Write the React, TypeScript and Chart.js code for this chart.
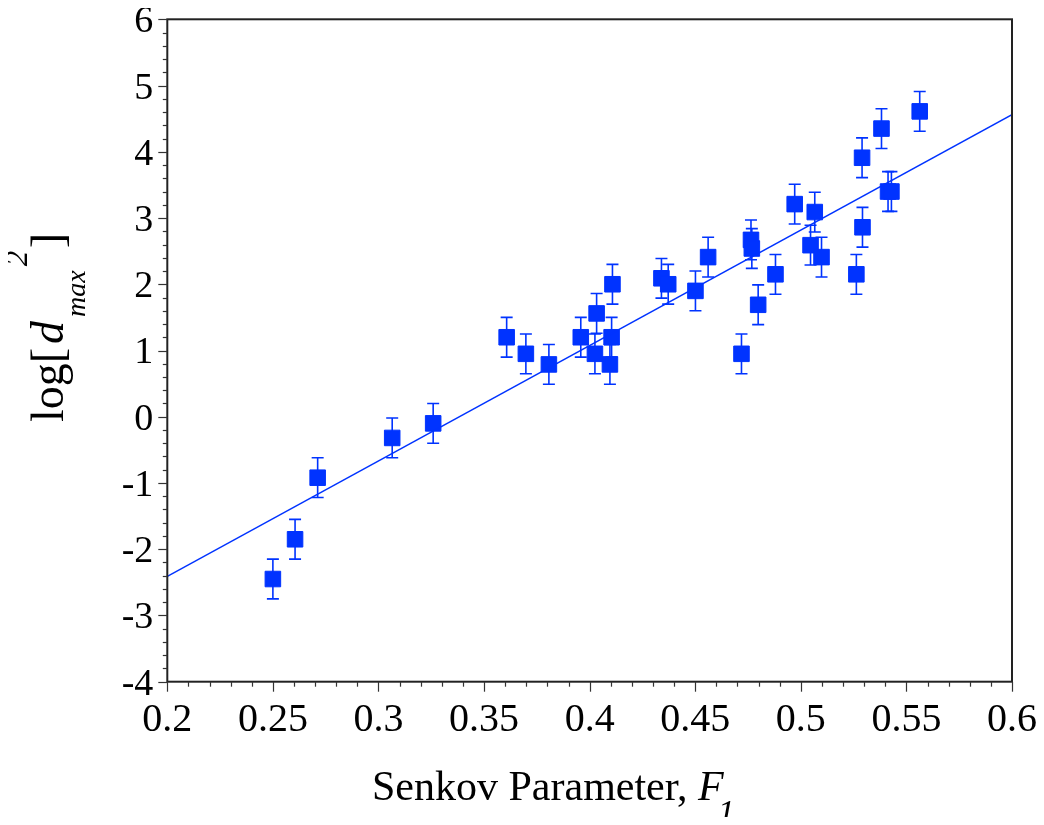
import React, { useEffect, useRef } from 'react';
import { Chart, registerables } from 'chart.js';

Chart.register(...registerables);

// ---- data ----
const senkovF1 = [
  0.250, 0.2605, 0.2712, 0.3065, 0.3259, 0.3607, 0.3698, 0.3807, 0.3958, 0.4025,
  0.4033, 0.4104, 0.4108, 0.4096, 0.4340, 0.4372, 0.4501, 0.4561, 0.4719, 0.4764,
  0.4768, 0.4798, 0.4880, 0.4971, 0.5046, 0.5066, 0.5098, 0.5263, 0.5290, 0.5292,
  0.5382, 0.5413, 0.5429, 0.5563,
];
const logDmax2 = [
  -2.45, -1.85, -0.92, -0.32, -0.10, 1.20, 0.95, 0.79, 1.20, 0.95,
  1.56, 1.20, 2.00, 0.79, 2.09, 2.00, 1.90, 2.41, 0.95, 2.67,
  2.54, 1.69, 2.15, 3.21, 2.59, 3.09, 2.41, 2.15, 3.91, 2.86,
  4.35, 3.40, 3.40, 4.61,
];
const errorBars = [
  0.3, 0.3, 0.3, 0.3, 0.3, 0.3, 0.3, 0.3, 0.3, 0.3,
  0.3, 0.3, 0.3, 0.3, 0.3, 0.3, 0.3, 0.3, 0.3, 0.3,
  0.3, 0.3, 0.3, 0.3, 0.3, 0.3, 0.3, 0.3, 0.3, 0.3,
  0.3, 0.3, 0.3, 0.3,
];
const fitX = [0.2, 0.6];
const fitY = [-2.41, 4.56];

const xTickValues = [0.2, 0.25, 0.3, 0.35, 0.4, 0.45, 0.5, 0.55, 0.6];
const xTickLabels = ['0.2', '0.25', '0.3', '0.35', '0.4', '0.45', '0.5', '0.55', '0.6'];
const yTickValues = [-4, -3, -2, -1, 0, 1, 2, 3, 4, 5, 6];
const yTickLabels = ['-4', '-3', '-2', '-1', '0', '1', '2', '3', '4', '5', '6'];

const xTitle = 'Senkov Parameter, ';
const xTitleVar = 'F';
const xTitleSub = '1';
const yTitleMain = 'log[';
const yTitleVar = 'd';
const yTitleSub = 'max';
const yTitleSup = '2';
const yTitleClose = ']';

const BLUE = 'rgb(0,51,255)';
const AXIS = '#222';
const SERIF = '"Liberation Serif", "DejaVu Serif", serif';

export default function App() {
  const ref = useRef<HTMLCanvasElement>(null);

  useEffect(() => {
    const overlay = {
      id: 'overlay',
      beforeDatasetsDraw(chart: any) {
        const { ctx } = chart;
        const xs = chart.scales.x;
        const ys = chart.scales.y;
        ctx.save();
        ctx.strokeStyle = BLUE;
        ctx.lineWidth = 1.6;
        for (let i = 0; i < senkovF1.length; i++) {
          const px = xs.getPixelForValue(senkovF1[i]);
          const t = ys.getPixelForValue(logDmax2[i] + errorBars[i]);
          const b = ys.getPixelForValue(logDmax2[i] - errorBars[i]);
          ctx.beginPath();
          ctx.moveTo(px, t);
          ctx.lineTo(px, b);
          ctx.moveTo(px - 6, t);
          ctx.lineTo(px + 6, t);
          ctx.moveTo(px - 6, b);
          ctx.lineTo(px + 6, b);
          ctx.stroke();
        }
        ctx.restore();
      },
      afterDraw(chart: any) {
        const { ctx, chartArea: a } = chart;
        const xs = chart.scales.x;
        const ys = chart.scales.y;
        ctx.save();
        // frame
        ctx.strokeStyle = AXIS;
        ctx.lineWidth = 2;
        ctx.strokeRect(a.left, a.top, a.right - a.left, a.bottom - a.top);
        // y ticks (major + minor)
        ctx.lineWidth = 1.2;
        ctx.strokeStyle = '#333';
        for (let k = 0; k <= 50; k++) {
          const v = -4 + k * 0.2;
          const py = Math.round(ys.getPixelForValue(v)) + 0.5;
          const len = k % 5 === 0 ? 9 : 4.5;
          ctx.beginPath();
          ctx.moveTo(a.left - len, py);
          ctx.lineTo(a.left, py);
          ctx.stroke();
        }
        for (let k = 0; k <= 40; k++) {
          const v = 0.2 + k * 0.01;
          const px = Math.round(xs.getPixelForValue(v)) + 0.5;
          const len = k % 5 === 0 ? 10 : 5;
          ctx.beginPath();
          ctx.moveTo(px, a.bottom);
          ctx.lineTo(px, a.bottom + len);
          ctx.stroke();
        }
        // x title
        ctx.fillStyle = '#000';
        ctx.textBaseline = 'alphabetic';
        ctx.textAlign = 'left';
        const tx = 364;
        const ty = 800;
        ctx.font = `42px ${SERIF}`;
        ctx.fillText(xTitle, tx, ty);
        const w1 = ctx.measureText(xTitle).width;
        ctx.font = `italic 42px ${SERIF}`;
        ctx.fillText(xTitleVar, tx + w1, ty);
        const w2 = ctx.measureText(xTitleVar).width;
        ctx.font = `italic 34px ${SERIF}`;
        ctx.fillText(xTitleSub, tx + w1 + w2 - 6, ty + 23);
        // y title (rotated)
        ctx.translate(55, 422);
        ctx.rotate(-Math.PI / 2);
        ctx.font = `46px ${SERIF}`;
        ctx.fillText(yTitleMain, 0, 0);
        const m1 = ctx.measureText(yTitleMain).width;
        ctx.font = `italic 46px ${SERIF}`;
        ctx.fillText(yTitleVar, m1 + 4, 0);
        const m2 = ctx.measureText(yTitleVar).width;
        ctx.font = `italic 28px ${SERIF}`;
        ctx.fillText(yTitleSub, m1 + m2 + 8, 22);
        const m3 = ctx.measureText(yTitleSub).width;
        ctx.font = `italic 31px ${SERIF}`;
        ctx.fillText(yTitleSup, m1 + m2 + m3 + 12, -36);
        ctx.font = `46px ${SERIF}`;
        ctx.fillText(yTitleClose, m1 + m2 + m3 + 30, 0);
        ctx.restore();
      },
    };

    const chart = new Chart(ref.current as HTMLCanvasElement, {
      type: 'scatter',
      data: {
        datasets: [
          {
            type: 'line',
            data: fitX.map((x, i) => ({ x, y: fitY[i] })),
            borderColor: BLUE,
            borderWidth: 1.6,
            pointRadius: 0,
            fill: false,
            order: 0,
          } as any,
          {
            type: 'scatter',
            data: senkovF1.map((x, i) => ({ x, y: logDmax2[i] })),
            pointStyle: 'rect',
            pointRadius: 11,
            backgroundColor: BLUE,
            borderColor: BLUE,
            borderWidth: 1,
            order: 1,
          } as any,
        ],
      },
      options: {
        responsive: false,
        animation: false,
        events: [],
        layout: { padding: { top: 19.3, right: 24, left: 0, bottom: 0 } },
        plugins: { legend: { display: false }, tooltip: { enabled: false } },
        scales: {
          x: {
            type: 'linear',
            min: 0.2,
            max: 0.6,
            afterBuildTicks: (s: any) => {
              s.ticks = xTickValues.map((v) => ({ value: v }));
            },
            afterFit: (s: any) => {
              s.height = 143.3;
              s.paddingLeft = 0;
              s.paddingRight = 0;
            },
            ticks: {
              callback: (_v: any, i: number) => xTickLabels[i],
              font: { family: SERIF, size: 40 },
              color: '#000',
              padding: 15,
              maxRotation: 0,
              autoSkip: false,
            },
            grid: { display: false, drawTicks: false },
            border: { display: false },
          },
          y: {
            type: 'linear',
            min: -4,
            max: 6,
            afterBuildTicks: (s: any) => {
              s.ticks = yTickValues.map((v) => ({ value: v }));
            },
            afterFit: (s: any) => {
              s.width = 159.3;
              s.paddingTop = 0;
              s.paddingBottom = 0;
            },
            ticks: {
              callback: (_v: any, i: number) => yTickLabels[i],
              font: { family: SERIF, size: 38 },
              color: '#000',
              padding: 14,
              labelOffset: 3,
              autoSkip: false,
            },
            grid: { display: false, drawTicks: false },
            border: { display: false },
          },
        },
      } as any,
      plugins: [overlay],
    });
    return () => chart.destroy();
  }, []);

  return (
    <div style={{ width: 1028, height: 825, marginTop: -8, marginBottom: -8 }}>
      <canvas
        ref={ref}
        width={1028}
        height={825}
        style={{ display: 'block', width: 1028, height: 825 }}
      />
    </div>
  );
}
